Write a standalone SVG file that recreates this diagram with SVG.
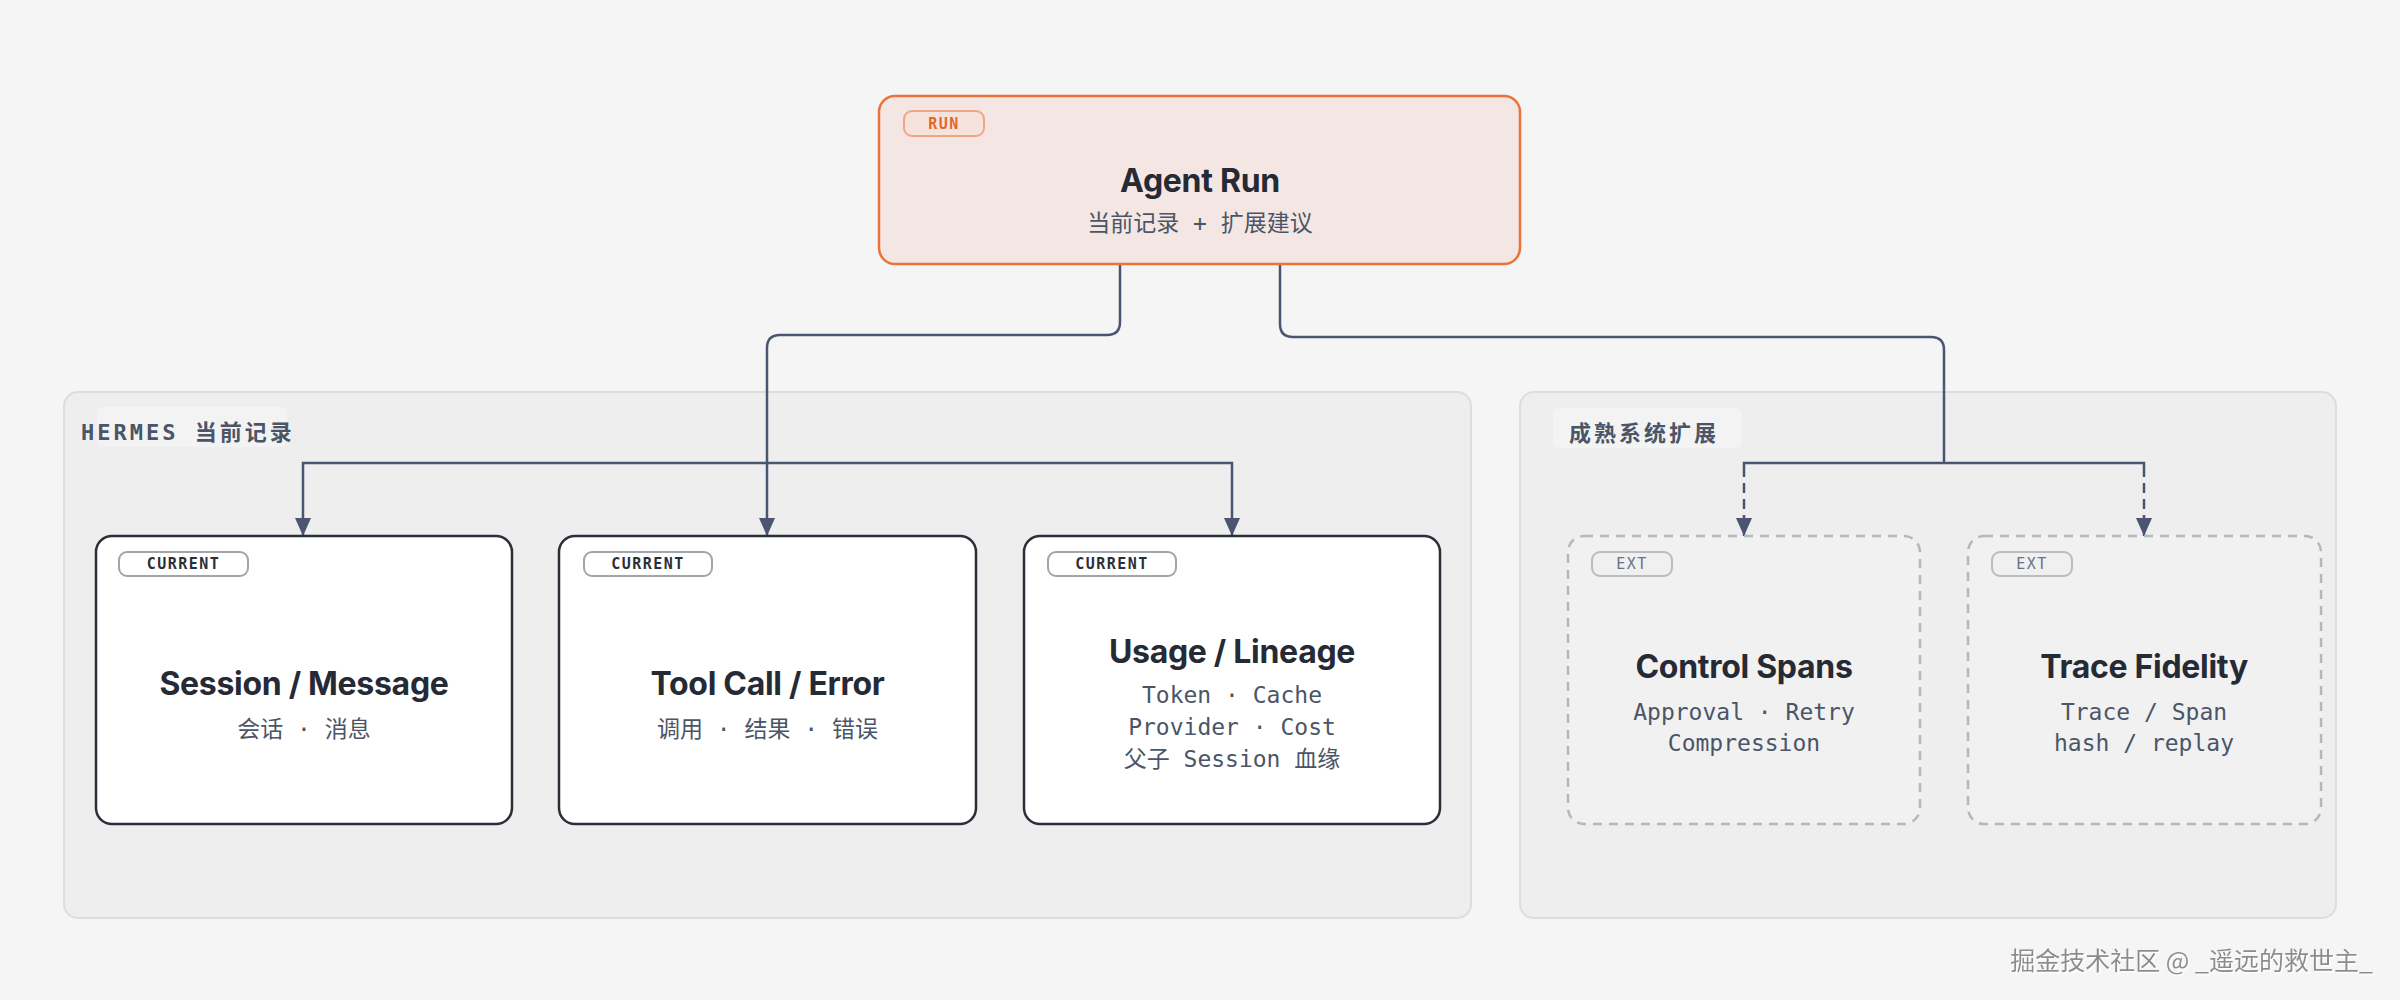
<svg xmlns="http://www.w3.org/2000/svg" width="2400" height="1000" viewBox="0 0 2400 1000">
<defs>
<style>
.bg{fill:#f5f5f5}
.group{fill:#eeeeef;stroke:#dcdddf;stroke-width:2}
.glabelbg{fill:#f3f3f4}
.glabel{font-family:"DejaVu Sans Mono","Noto Sans CJK SC",monospace;font-size:22px;font-weight:bold;fill:#4b5567;letter-spacing:3px}
.node{fill:#ffffff;stroke:#2b2f38;stroke-width:2.5}
.ext{fill:#f1f1f2;stroke:#b4b7bc;stroke-width:2.5;stroke-dasharray:9 7}
.run{fill:#f4e7e3;stroke:#e8743b;stroke-width:2.5}
.badge{fill:#ffffff;stroke:#a3a5aa;stroke-width:2}
.badge-run{fill:#f6e3db;stroke:#f0a584;stroke-width:2}
.badge-ext{fill:#f0f0f1;stroke:#b9bcc1;stroke-width:2}
.btext{font-family:"DejaVu Sans Mono",monospace;font-size:15px;font-weight:bold;letter-spacing:1.5px;text-anchor:middle;fill:#2b2f38}
.btext-run{fill:#e2662b}
.btext-ext{fill:#6b7280;font-weight:normal}
.title{font-family:Inter,"Liberation Sans",sans-serif;font-size:32px;font-weight:bold;fill:#262a35;text-anchor:middle;letter-spacing:-0.3px}
.sub{font-family:"DejaVu Sans Mono","Noto Sans CJK SC",monospace;font-size:23px;fill:#4b5567;text-anchor:middle}
.conn{fill:none;stroke:#4a5670;stroke-width:2.5}
.dash{stroke-dasharray:10 6}
.wm{font-family:"Noto Sans CJK SC",sans-serif;font-size:25px;fill:#8c8c8c;text-anchor:end}
</style>
<marker id="arr" markerUnits="userSpaceOnUse" markerWidth="18" markerHeight="17" refX="18" refY="8.5" orient="auto">
<path d="M0,0.5 L18,8.5 L0,16.5 z" fill="#4a5670"/>
</marker>
<filter id="emb" x="-5%" y="-30%" width="110%" height="160%">
<feDropShadow dx="1.5" dy="1.5" stdDeviation="0" flood-color="#ffffff" flood-opacity="1"/>
</filter>
</defs>
<rect class="bg" x="0" y="0" width="2400" height="1000"/>

<g id="group-hermes">
<rect class="group" x="64" y="392" width="1407" height="526" rx="14"/>
<rect class="glabelbg" x="97" y="407" width="190" height="40" rx="6"/>
<text class="glabel" x="81" y="440">HERMES 当前记录</text>
</g>
<g id="group-ext">
<rect class="group" x="1520" y="392" width="816" height="526" rx="14"/>
<rect class="glabelbg" x="1553" y="408" width="189" height="40" rx="6"/>
<text class="glabel" x="1569" y="441">成熟系统扩展</text>
</g>

<g id="connectors">
<path class="conn" d="M1120 264 V322 Q1120 335 1107 335 H780 Q767 335 767 348 V536" marker-end="url(#arr)"/>
<path class="conn" d="M767 463 H303 V536" marker-end="url(#arr)"/>
<path class="conn" d="M767 463 H1232 V536" marker-end="url(#arr)"/>
<path class="conn" d="M1280 264 V324 Q1280 337 1293 337 H1931 Q1944 337 1944 350 V463"/>
<path class="conn" d="M1744 477 V463 H2144 V477"/>
<path class="conn dash" d="M1744 483 V536" marker-end="url(#arr)"/>
<path class="conn dash" d="M2144 483 V536" marker-end="url(#arr)"/>
</g>

<g id="node-agent-run">
<rect class="run" x="879" y="96" width="641" height="168" rx="16"/>
<rect class="badge-run" x="904" y="111" width="80" height="25" rx="8"/>
<text class="btext btext-run" x="944" y="129">RUN</text>
<text class="title" x="1200" y="192" font-size="30">Agent Run</text>
<text class="sub" x="1200" y="231" font-size="22">当前记录 + 扩展建议</text>
</g>

<g id="node-session">
<rect class="node" x="96" y="536" width="416" height="288" rx="16"/>
<rect class="badge" x="119" y="552" width="129" height="24" rx="8"/>
<text class="btext" x="183.5" y="569">CURRENT</text>
<text class="title" x="304" y="695">Session / Message</text>
<text class="sub" x="304" y="737">会话 · 消息</text>
</g>

<g id="node-toolcall">
<rect class="node" x="559" y="536" width="417" height="288" rx="16"/>
<rect class="badge" x="584" y="552" width="128" height="24" rx="8"/>
<text class="btext" x="648" y="569">CURRENT</text>
<text class="title" x="767.5" y="695">Tool Call / Error</text>
<text class="sub" x="767.5" y="737">调用 · 结果 · 错误</text>
</g>

<g id="node-usage">
<rect class="node" x="1024" y="536" width="416" height="288" rx="16"/>
<rect class="badge" x="1048" y="552" width="128" height="24" rx="8"/>
<text class="btext" x="1112" y="569">CURRENT</text>
<text class="title" x="1232" y="663">Usage / Lineage</text>
<text class="sub" x="1232" y="703">Token · Cache</text>
<text class="sub" x="1232" y="735">Provider · Cost</text>
<text class="sub" x="1232" y="767">父子 Session 血缘</text>
</g>

<g id="node-control-spans">
<rect class="ext" x="1568" y="536" width="352" height="288" rx="16"/>
<rect class="badge-ext" x="1592" y="552" width="80" height="24" rx="8"/>
<text class="btext btext-ext" x="1632" y="569">EXT</text>
<text class="title" x="1744" y="678">Control Spans</text>
<text class="sub" x="1744" y="720">Approval · Retry</text>
<text class="sub" x="1744" y="751">Compression</text>
</g>

<g id="node-trace-fidelity">
<rect class="ext" x="1968" y="536" width="353" height="288" rx="16"/>
<rect class="badge-ext" x="1992" y="552" width="80" height="24" rx="8"/>
<text class="btext btext-ext" x="2032" y="569">EXT</text>
<text class="title" x="2144" y="678">Trace Fidelity</text>
<text class="sub" x="2144" y="720">Trace / Span</text>
<text class="sub" x="2144" y="751">hash / replay</text>
</g>

<text class="wm" x="2373" y="970" filter="url(#emb)">掘金技术社区 @ _遥远的救世主_</text>
</svg>
